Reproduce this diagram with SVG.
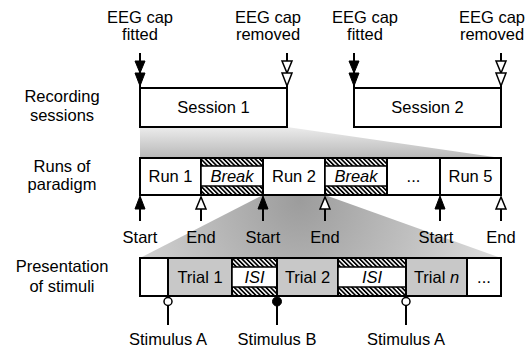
<svg xmlns="http://www.w3.org/2000/svg" width="532" height="354" viewBox="0 0 532 354">
<defs>
<pattern id="hatch" width="3.2" height="3.2" patternUnits="userSpaceOnUse" patternTransform="rotate(-45)">
<rect width="3.2" height="3.2" fill="#fff"/>
<rect width="1.7" height="3.2" fill="#000"/>
</pattern>
<linearGradient id="fan1" x1="0" y1="0" x2="0" y2="1">
<stop offset="0" stop-color="#ececec"/>
<stop offset="1" stop-color="#b8b8b8"/>
</linearGradient>
<radialGradient id="fan2" gradientUnits="userSpaceOnUse" cx="300" cy="200" r="230">
<stop offset="0" stop-color="#9c9c9c"/>
<stop offset="1" stop-color="#e4e4e4"/>
</radialGradient>
<style>
text{font-family:"Liberation Sans",Arial,Helvetica,sans-serif;font-size:16.5px;fill:#000;text-anchor:middle}
.it{font-style:italic}
.box{fill:#fff;stroke:#000;stroke-width:2}
.gray{fill:#c8c8c8;stroke:#000;stroke-width:2}
.hat{fill:url(#hatch);stroke:#000;stroke-width:2}
.inner{fill:#fff;stroke:#000;stroke-width:1.5}
.ln{stroke:#000;stroke-width:2;fill:none}
.fh{fill:#000;stroke:#000;stroke-width:1}
.oh{fill:#fff;stroke:#000;stroke-width:1.5}
</style>
</defs>
<rect width="532" height="354" fill="#fff"/>

<g id="zoom-fans">
<polygon points="140,127 287,127 501,158 140,158" fill="url(#fan1)"/>
<polygon points="263,195 325,195 501,258 140,258" fill="url(#fan2)"/>
</g>

<g id="row-labels">
<text x="62" y="102">Recording</text>
<text x="62" y="121">sessions</text>
<text x="62" y="172">Runs of</text>
<text x="62" y="190">paradigm</text>
<text x="62" y="272">Presentation</text>
<text x="62" y="292">of stimuli</text>
</g>

<g id="session1"><rect class="box" x="140" y="88" width="147" height="39"/><text x="213.5" y="113">Session 1</text></g>
<g id="session2"><rect class="box" x="354" y="88" width="147" height="39"/><text x="427.5" y="113">Session 2</text></g>

<g id="run1"><rect class="box" x="140" y="158" width="61" height="37"/><text x="170.5" y="182">Run 1</text></g>
<g id="break1"><rect class="hat" x="201" y="158" width="62" height="37"/><rect class="inner" x="201" y="166" width="62" height="20"/><text class="it" x="232" y="182">Break</text></g>
<g id="run2"><rect class="box" x="263" y="158" width="62" height="37"/><text x="294" y="182">Run 2</text></g>
<g id="break2"><rect class="hat" x="325" y="158" width="62" height="37"/><rect class="inner" x="325" y="166" width="62" height="20"/><text class="it" x="356" y="182">Break</text></g>
<g id="runs-more"><rect class="box" x="387" y="158" width="53" height="37"/><text x="413.5" y="182">...</text></g>
<g id="run5"><rect class="box" x="440" y="158" width="61" height="37"/><text x="470.5" y="182">Run 5</text></g>

<g id="trial-pre"><rect class="box" x="140" y="258" width="28" height="38"/></g>
<g id="trial1"><rect class="gray" x="168" y="258" width="64" height="38"/><text x="200" y="283">Trial 1</text></g>
<g id="isi1"><rect class="hat" x="232" y="258" width="45" height="38"/><rect class="inner" x="232" y="267" width="45" height="20"/><text class="it" x="254.5" y="283">ISI</text></g>
<g id="trial2"><rect class="gray" x="277" y="258" width="61" height="38"/><text x="307.5" y="283">Trial 2</text></g>
<g id="isi2"><rect class="hat" x="338" y="258" width="68" height="38"/><rect class="inner" x="338" y="267" width="68" height="20"/><text class="it" x="372" y="283">ISI</text></g>
<g id="trialn"><rect class="gray" x="406" y="258" width="61" height="38"/><text x="436.5" y="283">Trial <tspan class="it">n</tspan></text></g>
<g id="trials-more"><rect class="box" x="467" y="258" width="34" height="38"/><text x="484" y="283">...</text></g>

<g id="event-labels">
<text x="140" y="23">EEG cap</text><text x="140" y="40">fitted</text>
<text x="268" y="23">EEG cap</text><text x="268" y="40">removed</text>
<text x="365" y="23">EEG cap</text><text x="365" y="40">fitted</text>
<text x="492" y="23">EEG cap</text><text x="492" y="40">removed</text>
<text x="140" y="243">Start</text>
<text x="201" y="243">End</text>
<text x="263" y="243">Start</text>
<text x="325" y="243">End</text>
<text x="436" y="243">Start</text>
<text x="501" y="243">End</text>
<text x="168" y="345">Stimulus A</text>
<text x="277" y="345">Stimulus B</text>
<text x="406" y="345">Stimulus A</text>
</g>

<g id="connectors">
<line class="ln" x1="140" y1="53" x2="140" y2="88"/>
<polygon class="fh" points="135,61 145,61 140,73"/><polygon class="fh" points="135,73 145,73 140,86"/>
<line class="ln" x1="287" y1="53" x2="287" y2="88"/>
<polygon class="oh" points="282,61 292,61 287,73"/><polygon class="oh" points="282,73 292,73 287,86"/>
<line class="ln" x1="354" y1="53" x2="354" y2="88"/>
<polygon class="fh" points="349,61 359,61 354,73"/><polygon class="fh" points="349,73 359,73 354,86"/>
<line class="ln" x1="501" y1="53" x2="501" y2="88"/>
<polygon class="oh" points="496,61 506,61 501,73"/><polygon class="oh" points="496,73 506,73 501,86"/>
<line class="ln" x1="140" y1="221" x2="140" y2="197"/><polygon class="fh" points="140,196 135,209 145,209"/>
<line class="ln" x1="201" y1="221" x2="201" y2="208"/><polygon class="oh" points="201,197 196,209 206,209"/>
<line class="ln" x1="263" y1="221" x2="263" y2="197"/><polygon class="fh" points="263,196 258,209 268,209"/>
<line class="ln" x1="325" y1="221" x2="325" y2="208"/><polygon class="oh" points="325,197 320,209 330,209"/>
<line class="ln" x1="440" y1="221" x2="440" y2="197"/><polygon class="fh" points="440,196 435,209 445,209"/>
<line class="ln" x1="501" y1="221" x2="501" y2="208"/><polygon class="oh" points="501,197 496,209 506,209"/>
<line class="ln" x1="168" y1="305" x2="168" y2="325"/><circle class="oh" cx="168" cy="301.5" r="4"/>
<line class="ln" x1="277" y1="305" x2="277" y2="325"/><circle class="fh" cx="277" cy="301.5" r="4.5"/>
<line class="ln" x1="406" y1="305" x2="406" y2="325"/><circle class="oh" cx="406" cy="301.5" r="4"/>
</g>
</svg>
